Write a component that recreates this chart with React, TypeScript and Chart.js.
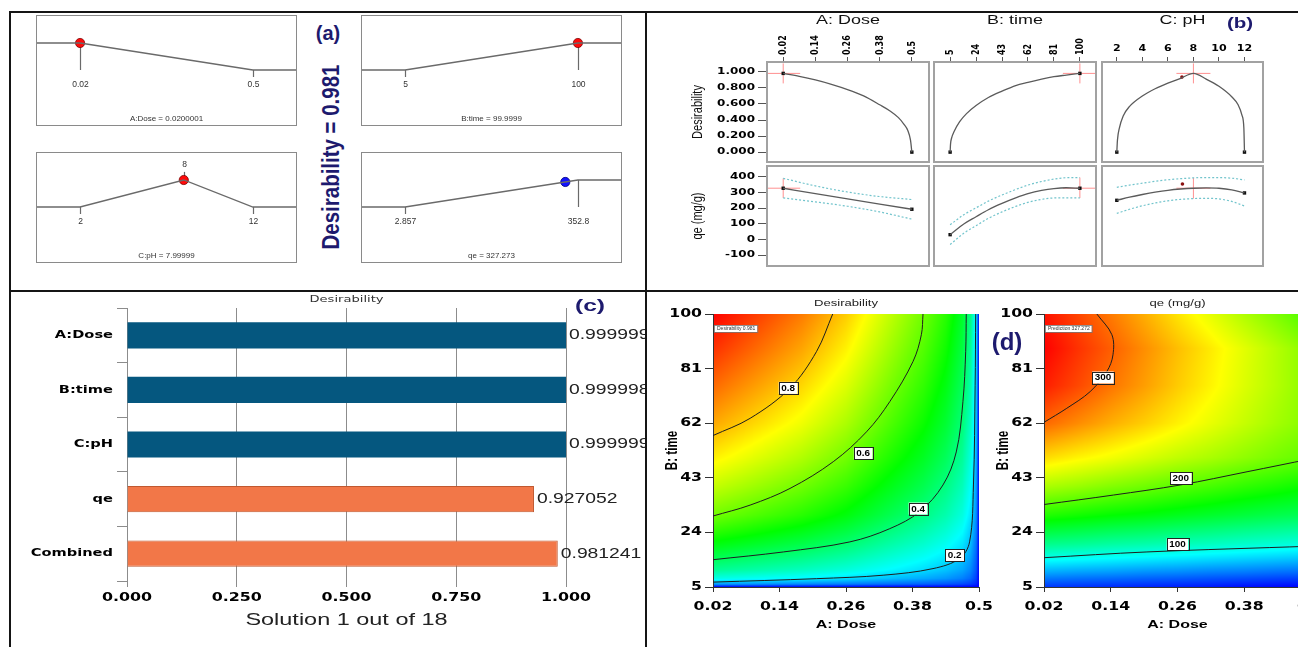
import React, { useEffect, useRef } from 'react';
import { Chart, registerables } from 'chart.js';

Chart.register(...registerables);

const S = 1.38;
const NAVY = '#1d1a6e';
const FA = '"Liberation Sans", Arial, sans-serif';
const FB = '"DejaVu Sans", Verdana, sans-serif';

// ================= DATA =================
// (a) desirability ramps
const rampNames = ['A:Dose', 'B:time', 'C:pH', 'qe'];
const rampGoals = ['minimize', 'maximize', 'target', 'maximize'];
const rampLow = [0.02, 5, 2, 2.857];
const rampHigh = [0.5, 100, 12, 352.8];
const rampTarget = [NaN, NaN, 8, NaN];
const rampLowText = ['0.02', '5', '2', '2.857'];
const rampHighText = ['0.5', '100', '12', '352.8'];
const rampTargetText = ['', '', '8', ''];
const rampValue = [0.0200001, 99.9999, 7.99999, 327.273];
const rampValueText = ['0.0200001', '99.9999', '7.99999', '327.273'];
const rampValueDesirability = [1, 1, 1, 0.927052];
const overallDesirability = '0.981';

// (b) one-factor plots
const doseTicks = [0.02, 0.14, 0.26, 0.38, 0.5];
const doseTickText = ['0.02', '0.14', '0.26', '0.38', '0.5'];
const timeTicks = [5, 24, 43, 62, 81, 100];
const timeTickText = ['5', '24', '43', '62', '81', '100'];
const phTicks = [2, 4, 6, 8, 10, 12];
const phTickText = ['2', '4', '6', '8', '10', '12'];
const desirabilityTicks = [0, 0.2, 0.4, 0.6, 0.8, 1];
const desirabilityTickText = ['0.000', '0.200', '0.400', '0.600', '0.800', '1.000'];
const qeTicks = [-100, 0, 100, 200, 300, 400];
const qeTickText = ['-100', '0', '100', '200', '300', '400'];

const desDoseX = [0.02, 0.08, 0.14, 0.2, 0.26, 0.32, 0.38, 0.42, 0.45, 0.47, 0.485, 0.495, 0.5];
const desDoseY = [0.981, 0.945, 0.9, 0.845, 0.78, 0.7, 0.59, 0.51, 0.43, 0.35, 0.27, 0.15, 0];
const desTimeX = [5, 5.3, 6, 8, 12, 17, 24, 33, 43, 53, 62, 72, 81, 90, 100];
const desTimeY = [0, 0.1, 0.17, 0.26, 0.38, 0.48, 0.58, 0.68, 0.76, 0.83, 0.87, 0.91, 0.94, 0.96, 0.981];
const desPhX = [2, 2.05, 2.2, 2.5, 3, 4, 5, 6, 7, 8, 9, 10, 11, 11.5, 11.8, 11.95, 12];
const desPhY = [0, 0.15, 0.3, 0.45, 0.57, 0.7, 0.79, 0.86, 0.92, 0.981, 0.91, 0.82, 0.69, 0.59, 0.46, 0.3, 0];

const qeDoseX = [0.02, 0.14, 0.26, 0.38, 0.5];
const qeDoseY = [327, 292, 259, 226, 193];
const qeDoseUpper = [390, 342, 303, 274, 255];
const qeDoseLower = [265, 240, 212, 176, 130];
const qeTimeX = [5, 15, 24, 33, 43, 53, 62, 72, 81, 90, 100];
const qeTimeY = [31, 99, 145, 190, 230, 265, 292, 313, 325, 330, 327];
const qeTimeUpper = [94, 158, 202, 245, 284, 319, 347, 370, 385, 394, 395];
const qeTimeLower = [-32, 40, 88, 135, 176, 211, 237, 256, 265, 266, 265];
const qePhX = [2, 3, 4, 5, 6, 7, 8, 9, 10, 11, 12];
const qePhY = [250, 270, 287, 302, 314, 322, 327, 329, 327, 317, 297];
const qePhUpper = [333, 347, 359, 371, 381, 388, 393, 395, 395, 391, 380];
const qePhLower = [167, 193, 215, 233, 247, 256, 261, 263, 259, 243, 214];

const phDesignDesirability = [7.1, 0.935];
const phDesignQe = [7.14, 354];
const optimumX = [0.02, 100, 8];
const optimumDesirability = 0.981;
const optimumQe = 327.273;

// (c) bar chart
const barCategories = ['A:Dose', 'B:time', 'C:pH', 'qe', 'Combined'];
const barValues = [0.999999, 0.999998, 0.999999, 0.927052, 0.981241];
const barValueText = ['0.999999', '0.999998', '0.999999', '0.927052', '0.981241'];
const barTicks = [0, 0.25, 0.5, 0.75, 1];
const barTickText = ['0.000', '0.250', '0.500', '0.750', '1.000'];

// (d) contour surfaces
const desGridDose = [0.02, 0.1, 0.18, 0.26, 0.34, 0.4, 0.44, 0.47, 0.485, 0.495, 0.5];
const desGridTime = [5, 6, 8, 11, 15, 20, 24, 30, 40, 50, 62, 75, 88, 100];
const desirabilityGrid = [
  [0, 0, 0, 0, 0, 0, 0, 0, 0, 0, 0],
  [0.15, 0.141, 0.132, 0.12, 0.104, 0.092, 0.081, 0.069, 0.056, 0.035, 0],
  [0.27, 0.254, 0.238, 0.216, 0.186, 0.165, 0.146, 0.124, 0.1, 0.062, 0],
  [0.35, 0.329, 0.308, 0.28, 0.242, 0.214, 0.189, 0.161, 0.13, 0.081, 0],
  [0.41, 0.385, 0.361, 0.328, 0.283, 0.25, 0.221, 0.189, 0.152, 0.094, 0],
  [0.48, 0.451, 0.422, 0.384, 0.331, 0.293, 0.259, 0.221, 0.178, 0.11, 0],
  [0.53, 0.498, 0.466, 0.424, 0.366, 0.323, 0.286, 0.244, 0.196, 0.122, 0],
  [0.6, 0.564, 0.528, 0.48, 0.414, 0.366, 0.324, 0.276, 0.222, 0.138, 0],
  [0.68, 0.639, 0.598, 0.544, 0.469, 0.415, 0.367, 0.313, 0.252, 0.156, 0],
  [0.75, 0.705, 0.66, 0.6, 0.518, 0.458, 0.405, 0.345, 0.278, 0.173, 0],
  [0.82, 0.771, 0.722, 0.656, 0.566, 0.5, 0.443, 0.377, 0.303, 0.189, 0],
  [0.88, 0.827, 0.774, 0.704, 0.607, 0.537, 0.475, 0.405, 0.326, 0.202, 0],
  [0.935, 0.879, 0.823, 0.748, 0.645, 0.57, 0.505, 0.43, 0.346, 0.215, 0],
  [0.981, 0.922, 0.863, 0.785, 0.677, 0.598, 0.53, 0.451, 0.363, 0.226, 0],
];
const qeGridDose = [0.02, 0.08, 0.14, 0.2, 0.26, 0.32, 0.38, 0.44, 0.5];
const qeGridTime = [5, 10, 15, 20, 30, 40, 50, 62, 75, 88, 100];
const qeGrid = [
  [31, 29, 27, 25, 23, 21, 18, 16, 14],
  [66, 63, 61, 58, 56, 53, 51, 48, 46],
  [99, 96, 93, 90, 87, 84, 81, 78, 75],
  [130, 127, 123, 120, 116, 113, 109, 106, 102],
  [183, 178, 173, 169, 164, 159, 154, 149, 145],
  [226, 220, 213, 207, 200, 194, 187, 181, 174],
  [263, 255, 248, 240, 232, 225, 217, 209, 202],
  [299, 288, 277, 267, 256, 245, 234, 223, 213],
  [322, 309, 295, 282, 268, 255, 241, 228, 214],
  [331, 316, 302, 287, 272, 258, 243, 228, 213],
  [326, 310, 293, 277, 260, 244, 227, 211, 194],
];
const desContour08 = [[0.02, 57.7], [0.087, 63.7], [0.159, 74.2], [0.207, 87], [0.236, 100]];
const desContour06 = [[0.02, 29.7], [0.087, 33.5], [0.159, 39.3], [0.237, 48.6], [0.297, 59], [0.339, 69.5], [0.381, 83.5], [0.396, 92.8], [0.399, 100]];
const desContour04 = [[0.02, 14.5], [0.147, 17.2], [0.267, 20.7], [0.339, 25.3], [0.393, 31.2], [0.435, 40.5], [0.459, 52], [0.471, 69.5], [0.476, 87], [0.477, 100]];
const desContour02 = [[0.02, 6.7], [0.207, 7.9], [0.327, 9.1], [0.417, 11.4], [0.465, 14.9], [0.483, 20.7], [0.49, 40.5], [0.493, 75], [0.494, 100]];
const qeContour300 = [[0.02, 62.3], [0.061, 67.2], [0.103, 73], [0.133, 80], [0.144, 85.8], [0.142, 92.8], [0.115, 100]];
const qeContour200 = [[0.02, 33.7], [0.145, 37], [0.265, 40.5], [0.385, 45.1], [0.5, 49.6]];
const qeContour100 = [[0.02, 15.2], [0.205, 17.2], [0.5, 19.2]];
const desContourLabels: [string, number, number][] = [['0.8', 0.1555, 74.3], ['0.6', 0.291, 51.5], ['0.4', 0.39, 32.3], ['0.2', 0.456, 16.0]];
const qeContourLabels: [string, number, number][] = [['300', 0.126, 77.9], ['200', 0.266, 42.8], ['100', 0.26, 19.9]];

// ================= HELPERS =================
function drawText(ctx: any, text: string, x: number, y: number, font: string, o: any = {}) {
  ctx.save();
  ctx.translate(x, y);
  ctx.scale(o.sx ?? 1, 1);
  if (o.rot) ctx.rotate(o.rot);
  ctx.font = font;
  ctx.fillStyle = o.color ?? '#000';
  ctx.textAlign = o.align ?? 'center';
  ctx.textBaseline = o.baseline ?? 'middle';
  ctx.fillText(text, 0, 0);
  ctx.restore();
}

const zeroFit = (s: any) => {
  if (s.isHorizontal()) s.height = 0;
  else s.width = 0;
};
const pts = (xs: number[], ys: number[]) => xs.map((x, i) => ({ x, y: ys[i] }));
const pairPts = (p: number[][]) => p.map((q) => ({ x: q[0], y: q[1] }));

function axis(min: number, max: number, ticks: number[], extra: any = {}) {
  const a: any = {
    type: 'linear',
    min,
    max,
    afterFit: zeroFit,
    ticks: { display: false },
    grid: { display: false },
    border: { display: false },
    ...extra,
  };
  if (ticks.length) a.afterBuildTicks = (s: any) => { s.ticks = ticks.map((v) => ({ value: v })); };
  return a;
}

type Area = [number, number, number, number];
type Pad = { l: number; t: number; r: number; b: number };

function ChartBox({ area, pad, make }: { area: Area; pad: Pad; make: () => any }) {
  const ref = useRef<HTMLCanvasElement | null>(null);
  const w = area[2] - area[0] + pad.l + pad.r;
  const h = area[3] - area[1] + pad.t + pad.b;
  useEffect(() => {
    if (!ref.current) return;
    const cfg = make();
    const o = cfg.options || (cfg.options = {});
    o.responsive = false;
    o.maintainAspectRatio = false;
    o.animation = false;
    o.devicePixelRatio = 1;
    o.events = [];
    o.layout = { padding: { left: pad.l, top: pad.t, right: pad.r, bottom: pad.b } };
    o.plugins = Object.assign({ legend: { display: false }, tooltip: { enabled: false }, title: { display: false } }, o.plugins || {});
    const chart = new Chart(ref.current, cfg);
    return () => chart.destroy();
  }, []);
  return (
    <canvas
      ref={ref}
      width={w}
      height={h}
      style={{ position: 'absolute', left: area[0] - pad.l, top: area[1] - pad.t, width: w + 'px', height: h + 'px' }}
    />
  );
}

// ================= (a) ramps =================
function rampConfig(i: number) {
  const lo = rampLow[i], hi = rampHigh[i], r = hi - lo;
  const xmin = lo - 0.255 * r, xmax = hi + 0.255 * r;
  const goal = rampGoals[i];
  const line =
    goal === 'minimize'
      ? [{ x: xmin, y: 1 }, { x: lo, y: 1 }, { x: hi, y: 0 }, { x: xmax, y: 0 }]
      : goal === 'maximize'
      ? [{ x: xmin, y: 0 }, { x: lo, y: 0 }, { x: hi, y: 1 }, { x: xmax, y: 1 }]
      : [{ x: xmin, y: 0 }, { x: lo, y: 0 }, { x: rampTarget[i], y: 1 }, { x: hi, y: 0 }, { x: xmax, y: 0 }];
  const marks: any[] = [
    { v: lo, text: rampLowText[i], level: goal === 'minimize' ? 1 : 0, up: false },
    { v: hi, text: rampHighText[i], level: goal === 'maximize' ? 1 : 0, up: false },
  ];
  if (goal === 'target') marks.push({ v: rampTarget[i], text: rampTargetText[i], level: 1, up: true });
  const blue = i === 3;
  return {
    type: 'scatter',
    data: {
      datasets: [
        { data: line, showLine: true, borderColor: '#6a6a6a', borderWidth: 1.3, pointRadius: 0 },
        {
          data: [{ x: rampValue[i], y: rampValueDesirability[i] }],
          pointRadius: 4.6,
          backgroundColor: blue ? '#1212ff' : '#ff0a0a',
          borderColor: blue ? '#00007a' : '#7a0000',
          borderWidth: 0.8,
        },
      ],
    },
    options: {
      scales: { x: axis(xmin, xmax, [], { display: false }), y: axis(-2.074, 2.037, [], { display: false }) },
    },
    plugins: [
      {
        id: 'ramp',
        beforeDatasetsDraw(chart: any) {
          const { ctx, scales } = chart;
          const X = scales.x, Y = scales.y;
          ctx.save();
          ctx.strokeStyle = '#6a6a6a';
          ctx.lineWidth = 1.2;
          for (const m of marks) {
            const px = Math.round(X.getPixelForValue(m.v)) + 0.5;
            let y1, y2, ly;
            if (m.up) { y1 = Y.getPixelForValue(1); y2 = Y.getPixelForValue(1.3); ly = Y.getPixelForValue(1.55); }
            else if (m.level === 1) { y1 = Y.getPixelForValue(1); y2 = Y.getPixelForValue(0); ly = Y.getPixelForValue(-0.55); }
            else { y1 = Y.getPixelForValue(0); y2 = Y.getPixelForValue(-0.26); ly = Y.getPixelForValue(-0.55); }
            ctx.beginPath();
            ctx.moveTo(px, y1);
            ctx.lineTo(px, y2);
            ctx.stroke();
            drawText(ctx, m.text, px, ly, `8.5px ${FA}`, { color: '#333' });
          }
          ctx.restore();
        },
        afterDraw(chart: any) {
          const { ctx, chartArea: a } = chart;
          ctx.save();
          ctx.strokeStyle = '#8a8a8a';
          ctx.lineWidth = 1;
          ctx.strokeRect(a.left + 0.5, a.top + 0.5, a.right - a.left - 1, a.bottom - a.top - 1);
          ctx.restore();
          drawText(ctx, `${rampNames[i]} = ${rampValueText[i]}`, (a.left + a.right) / 2, a.bottom - 7, `8px ${FA}`, { color: '#333' });
        },
      },
    ],
  };
}

// ================= (b) one-factor plots =================
const bColumns = [
  { min: -0.0405, max: 0.564, ticks: doseTicks, text: doseTickText, title: 'A: Dose', rotated: true, dx: desDoseX, dy: desDoseY, qx: qeDoseX, qy: qeDoseY, qu: qeDoseUpper, ql: qeDoseLower },
  { min: -6.8, max: 111.8, ticks: timeTicks, text: timeTickText, title: 'B: time', rotated: true, dx: desTimeX, dy: desTimeY, qx: qeTimeX, qy: qeTimeY, qu: qeTimeUpper, ql: qeTimeLower },
  { min: 0.84, max: 13.45, ticks: phTicks, text: phTickText, title: 'C: pH', rotated: false, dx: desPhX, dy: desPhY, qx: qePhX, qy: qePhY, qu: qePhUpper, ql: qePhLower },
];

function oneFactorConfig(col: number, row: number) {
  const c = bColumns[col];
  const ds: any[] = [];
  const grayLine = { showLine: true, borderColor: '#5b5b5b', borderWidth: 1.3, pointRadius: 0, cubicInterpolationMode: 'monotone' };
  const dash = { showLine: true, borderColor: '#72c4cc', borderWidth: 1.2, borderDash: [2, 2], pointRadius: 0, cubicInterpolationMode: 'monotone' };
  let xs: number[], ys: number[];
  if (row === 0) {
    xs = c.dx; ys = c.dy;
    ds.push({ ...grayLine, data: pts(xs, ys) });
  } else {
    xs = c.qx; ys = c.qy;
    ds.push({ ...dash, data: pts(xs, c.qu) }, { ...dash, data: pts(xs, c.ql) }, { ...grayLine, data: pts(xs, ys) });
  }
  ds.push({
    data: [{ x: xs[0], y: ys[0] }, { x: xs[xs.length - 1], y: ys[ys.length - 1] }],
    pointStyle: 'rect', pointRadius: 2.4, backgroundColor: '#111', borderColor: '#111', borderWidth: 0,
  });
  if (col === 2) {
    const p = row === 0 ? phDesignDesirability : phDesignQe;
    ds.push({ data: [{ x: p[0], y: p[1] }], pointRadius: 1.8, backgroundColor: '#8b1010', borderWidth: 0 });
  }
  const yr = row === 0 ? [-0.123, 1.123] : [-168.75, 468.75];
  const yt = row === 0 ? desirabilityTicks : qeTicks;
  const ytText = row === 0 ? desirabilityTickText : qeTickText;
  const xAxis =
    row === 0
      ? axis(c.min, c.max, c.ticks, { position: 'top', grid: { display: true, drawOnChartArea: false, drawTicks: true, tickLength: 5, color: '#555', lineWidth: 1 } })
      : axis(c.min, c.max, [], { display: false });
  const yAxis =
    col === 0
      ? axis(yr[0], yr[1], yt, { grid: { display: true, drawOnChartArea: false, drawTicks: true, tickLength: 9, color: '#555', lineWidth: 1 } })
      : axis(yr[0], yr[1], [], { display: false });
  return {
    type: 'scatter',
    data: { datasets: ds },
    options: { scales: { x: xAxis, y: yAxis } },
    plugins: [
      {
        id: 'oneFactor',
        beforeDatasetsDraw(chart: any) {
          const { ctx, chartArea: a, scales } = chart;
          const X = scales.x, Y = scales.y;
          const xo = optimumX[col];
          const px = X.getPixelForValue(xo);
          ctx.save();
          ctx.beginPath();
          ctx.rect(a.left, a.top, a.right - a.left, a.bottom - a.top);
          ctx.clip();
          ctx.strokeStyle = '#ff9090';
          ctx.lineWidth = 1;
          ctx.beginPath();
          if (row === 0) {
            const py = Y.getPixelForValue(optimumDesirability);
            ctx.moveTo(px, py - 10); ctx.lineTo(px, py + 10);
            ctx.moveTo(px - 17, py); ctx.lineTo(px + 17, py);
          } else {
            const idx = c.qx.indexOf(xo);
            const py = Y.getPixelForValue(optimumQe);
            ctx.moveTo(px, Y.getPixelForValue(c.qu[idx])); ctx.lineTo(px, Y.getPixelForValue(c.ql[idx]));
            ctx.moveTo(px - 17, py); ctx.lineTo(px + 17, py);
          }
          ctx.stroke();
          ctx.restore();
        },
        afterDraw(chart: any) {
          const { ctx, chartArea: a, scales } = chart;
          const X = scales.x, Y = scales.y;
          ctx.save();
          ctx.strokeStyle = '#a2a2a2';
          ctx.lineWidth = 2;
          ctx.strokeRect(a.left, a.top, a.right - a.left, a.bottom - a.top);
          ctx.restore();
          if (row === 0) {
            drawText(ctx, c.title, (a.left + a.right) / 2, a.top - 42, `13px ${FA}`, { sx: S, color: '#111' });
            c.ticks.forEach((v: number, k: number) => {
              const px = X.getPixelForValue(v);
              if (c.rotated) drawText(ctx, c.text[k], px, a.top - 7, `bold 8px ${FB}`, { sx: S, rot: -Math.PI / 2, align: 'left' });
              else drawText(ctx, c.text[k], px, a.top - 13, `bold 8px ${FB}`, { sx: S });
            });
          }
          if (col === 0) {
            yt.forEach((v: number, k: number) => {
              drawText(ctx, ytText[k], a.left - 12, Y.getPixelForValue(v), `bold 8.7px ${FB}`, { sx: S, align: 'right' });
            });
            drawText(ctx, row === 0 ? 'Desirability' : 'qe (mg/g)', a.left - 69, (a.top + a.bottom) / 2, `11px ${FA}`, { sx: S, rot: -Math.PI / 2, color: '#111' });
          }
        },
      },
    ],
  };
}

// ================= (c) bar chart =================
function barConfig() {
  return {
    type: 'bar',
    data: {
      labels: barCategories,
      datasets: [
        {
          data: barValues,
          backgroundColor: barValues.map((_, i) => (i < 3 ? '#05577f' : '#f27748')),
          borderColor: barValues.map((_, i) => (i < 3 ? '#05577f' : '#c0582f')),
          borderWidth: barValues.map((_, i) => (i < 3 ? 0 : 1)),
          barPercentage: 0.48,
          categoryPercentage: 1,
        },
      ],
    },
    options: {
      indexAxis: 'y',
      scales: {
        x: axis(0, 1, barTicks, { grid: { display: true, drawOnChartArea: true, drawTicks: true, tickLength: 6, color: '#8c8c8c' } }),
        y: {
          type: 'category',
          afterFit: zeroFit,
          ticks: { display: false },
          border: { display: false },
          grid: { display: true, drawOnChartArea: false, drawTicks: true, tickLength: 10, color: '#8c8c8c', offset: true },
        },
      },
    },
    plugins: [
      {
        id: 'barText',
        afterDraw(chart: any) {
          const { ctx, chartArea: a, scales } = chart;
          const meta = chart.getDatasetMeta(0);
          meta.data.forEach((bar: any, i: number) => {
            drawText(ctx, barValueText[i], bar.x + 3, bar.y, `14px ${FA}`, { sx: S, align: 'left', color: '#222' });
            drawText(ctx, barCategories[i], a.left - 14, scales.y.getPixelForValue(i), `bold 10.6px ${FB}`, { sx: S, align: 'right' });
          });
          barTicks.forEach((v, k) => {
            drawText(ctx, barTickText[k], scales.x.getPixelForValue(v), a.bottom + 17, `bold 11.5px ${FB}`, { sx: S });
          });
          const cx = (a.left + a.right) / 2;
          drawText(ctx, 'Desirability', cx, a.top - 8, `9.5px ${FB}`, { sx: S, color: '#333' });
          drawText(ctx, 'Solution 1 out of 18', cx, a.bottom + 39, `17px ${FA}`, { sx: S, color: '#222' });
        },
      },
    ],
  };
}

// ================= (d) contour plots =================
const cmapStops = [[0, 0, 255], [0, 255, 255], [0, 255, 0], [255, 255, 0], [255, 0, 0]];
function cmap(t: number) {
  t = Math.max(0, Math.min(1, t));
  const s = t * 4;
  const i = Math.min(3, Math.floor(s));
  const f = s - i;
  const a = cmapStops[i], b = cmapStops[i + 1];
  return [a[0] + (b[0] - a[0]) * f, a[1] + (b[1] - a[1]) * f, a[2] + (b[2] - a[2]) * f];
}
function locate(xs: number[], x: number) {
  let i = 0;
  while (i < xs.length - 2 && x > xs[i + 1]) i++;
  const t = Math.max(0, Math.min(1, (x - xs[i]) / (xs[i + 1] - xs[i])));
  return [i, t];
}

function contourConfig(which: number) {
  const isDes = which === 0;
  const grid = isDes ? desirabilityGrid : qeGrid;
  const gx = isDes ? desGridDose : qeGridDose;
  const gy = isDes ? desGridTime : qeGridTime;
  let vmin = Infinity, vmax = -Infinity;
  grid.forEach((r) => r.forEach((v) => { vmin = Math.min(vmin, v); vmax = Math.max(vmax, v); }));
  const contours = isDes ? [desContour08, desContour06, desContour04, desContour02] : [qeContour300, qeContour200, qeContour100];
  const labels = isDes ? desContourLabels : qeContourLabels;
  return {
    type: 'scatter',
    data: {
      datasets: contours.map((cn) => ({
        data: pairPts(cn), showLine: true, borderColor: '#1e1e1e', borderWidth: 1, pointRadius: 0, tension: 0.35,
      })),
    },
    options: {
      scales: {
        x: axis(0.02, 0.5, doseTicks, { grid: { display: true, drawOnChartArea: false, drawTicks: true, tickLength: 5, color: '#333' }, border: { display: true, color: '#333', width: 1 } }),
        y: axis(5, 100, timeTicks, { grid: { display: true, drawOnChartArea: false, drawTicks: true, tickLength: 8, color: '#333' }, border: { display: true, color: '#333', width: 1 } }),
      },
    },
    plugins: [
      {
        id: 'heat',
        beforeDraw(chart: any) {
          const { ctx, chartArea: a, scales } = chart;
          const w = Math.ceil(a.right - a.left), h = Math.ceil(a.bottom - a.top);
          const off = document.createElement('canvas');
          off.width = w; off.height = h;
          const octx = off.getContext('2d')!;
          const img = octx.createImageData(w, h);
          const cols = [] as number[][];
          for (let px = 0; px < w; px++) cols.push(locate(gx, scales.x.getValueForPixel(a.left + px + 0.5)));
          for (let py = 0; py < h; py++) {
            const [j, ty] = locate(gy, scales.y.getValueForPixel(a.top + py + 0.5));
            for (let px = 0; px < w; px++) {
              const [i, tx] = cols[px];
              const v = grid[j][i] * (1 - tx) * (1 - ty) + grid[j][i + 1] * tx * (1 - ty) + grid[j + 1][i] * (1 - tx) * ty + grid[j + 1][i + 1] * tx * ty;
              const c = cmap((v - vmin) / (vmax - vmin));
              const k = (py * w + px) * 4;
              img.data[k] = c[0]; img.data[k + 1] = c[1]; img.data[k + 2] = c[2]; img.data[k + 3] = 255;
            }
          }
          octx.putImageData(img, 0, 0);
          ctx.drawImage(off, a.left, a.top);
        },
        afterDraw(chart: any) {
          const { ctx, chartArea: a, scales } = chart;
          const X = scales.x, Y = scales.y;
          // contour labels
          for (const [t, dx, ty] of labels) {
            const px = X.getPixelForValue(dx), py = Y.getPixelForValue(ty);
            ctx.save();
            ctx.font = `bold 9px ${FA}`;
            const tw = ctx.measureText(t).width * 1.1 + 5;
            ctx.fillStyle = '#fff';
            ctx.fillRect(px - tw / 2, py - 6, tw, 12);
            ctx.strokeStyle = '#222';
            ctx.lineWidth = 1;
            ctx.strokeRect(Math.round(px - tw / 2) + 0.5, Math.round(py - 6) + 0.5, Math.round(tw), 12);
            ctx.restore();
            drawText(ctx, t, px, py + 0.5, `bold 9px ${FA}`, { sx: 1.1 });
          }
          // legend box
          const leg = isDes ? `Desirability ${overallDesirability}` : `Prediction ${optimumQe.toFixed(3).slice(0, 6)}2`;
          ctx.save();
          ctx.font = `5px ${FA}`;
          const lw = ctx.measureText(leg).width + 5;
          ctx.fillStyle = '#fff';
          ctx.fillRect(a.left + 1, a.top + 11, lw, 7);
          ctx.strokeStyle = '#777';
          ctx.lineWidth = 0.8;
          ctx.strokeRect(a.left + 1.5, a.top + 11.5, lw, 7);
          ctx.restore();
          drawText(ctx, leg, a.left + 4, a.top + 15, `5px ${FA}`, { align: 'left', color: '#333' });
          // tick labels
          doseTicks.forEach((v, k) => drawText(ctx, doseTickText[k], X.getPixelForValue(v), a.bottom + 20, `bold 11.4px ${FB}`, { sx: S }));
          timeTicks.forEach((v, k) => drawText(ctx, timeTickText[k], a.left - 11, Y.getPixelForValue(v), `bold 11.4px ${FB}`, { sx: S, align: 'right' }));
          drawText(ctx, 'A: Dose', (a.left + a.right) / 2, a.bottom + 38, `bold 11.6px ${FA}`, { sx: S });
          drawText(ctx, 'B: time', a.left - 40, (a.top + a.bottom) / 2, `bold 11.6px ${FA}`, { sx: S, rot: -Math.PI / 2 });
          drawText(ctx, isDes ? 'Desirability' : 'qe (mg/g)', (a.left + a.right) / 2, a.top - 11, `9.5px ${FA}`, { sx: S, color: '#222' });
        },
      },
    ],
  };
}

// ================= LAYOUT =================
const rampAreas: Area[] = [
  [36, 15, 297, 126],
  [361, 15, 622, 126],
  [36, 152, 297, 263],
  [361, 152, 622, 263],
];
const bX = [[767, 930], [933, 1097], [1101, 1264]];
const bY = [[62, 163], [165, 267]];

function Txt({ text, cx, cy, font, color = NAVY, tf = '' }: any) {
  return (
    <div
      style={{
        position: 'absolute', left: cx, top: cy, transform: `translate(-50%, -50%) ${tf}`,
        font, color, whiteSpace: 'nowrap', lineHeight: 1,
      }}
    >
      {text}
    </div>
  );
}

function Rule({ x, y, w, h }: any) {
  return <div style={{ position: 'absolute', left: x, top: y, width: w, height: h, background: '#151515' }} />;
}

export default function App() {
  return (
    <div style={{ position: 'fixed', left: 0, top: 0, width: 1298, height: 647, overflow: 'hidden', background: '#fff' }}>
      {rampAreas.map((a, i) => (
        <ChartBox key={'r' + i} area={a} pad={{ l: 6, t: 6, r: 6, b: 6 }} make={() => rampConfig(i)} />
      ))}
      {[0, 1].map((row) =>
        [0, 1, 2].map((col) => (
          <ChartBox
            key={`b${row}${col}`}
            area={[bX[col][0], bY[row][0], bX[col][1], bY[row][1]]}
            pad={{ l: col === 0 ? 112 : 3, t: row === 0 ? 50 : 3, r: 3, b: 3 }}
            make={() => oneFactorConfig(col, row)}
          />
        ))
      )}
      <ChartBox area={[127, 308, 566, 581]} pad={{ l: 113, t: 16, r: 79, b: 64 }} make={barConfig} />
      <ChartBox area={[713, 314, 979, 587]} pad={{ l: 63, t: 20, r: 14, b: 58 }} make={() => contourConfig(0)} />
      <ChartBox area={[1044, 314, 1311, 587]} pad={{ l: 60, t: 20, r: 4, b: 58 }} make={() => contourConfig(1)} />

      <Rule x={9} y={11} w={1289} h={2} />
      <Rule x={9} y={11} w={2} h={636} />
      <Rule x={645} y={11} w={2} h={636} />
      <Rule x={9} y={290} w={1289} h={2} />

      <Txt text="(a)" cx={328} cy={33} font={`bold 20px ${FA}`} />
      <Txt text={`Desirability = ${overallDesirability}`} cx={331} cy={157} font={`bold 23px ${FA}`} tf="rotate(-90deg) scaleX(0.89)" />
      <Txt text="(b)" cx={1240} cy={22} font={`bold 15px ${FA}`} tf="scaleX(1.37)" />
      <Txt text="(c)" cx={590} cy={305} font={`bold 17px ${FA}`} tf="scaleX(1.45)" />
      <Txt text="(d)" cx={1007} cy={342} font={`bold 24px ${FA}`} />
    </div>
  );
}
